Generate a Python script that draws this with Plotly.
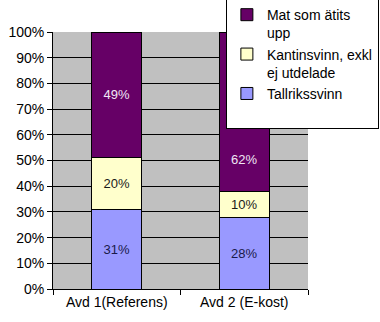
import plotly.graph_objects as go

categories = ["Avd 1(Referens)", "Avd 2 (E-kost)"]
tallriks = [31, 28]
kantin = [20, 10]
mat = [49, 62]
tick_vals = [0, 10, 20, 30, 40, 50, 60, 70, 80, 90, 100]
tick_text = [f"{v}%" for v in tick_vals]

font = "Liberation Sans, Arial, sans-serif"

def bar(name, vals, color, tcolor, texts=None):
    return go.Bar(
        x=categories, y=vals, name=name,
        marker=dict(color=color, line=dict(color="black", width=1)),
        text=texts if texts is not None else [f"{v}%" for v in vals],
        textposition="inside",
        insidetextanchor="middle", textangle=0,
        textfont=dict(family=font, size=13, color=tcolor),
        hoverinfo="skip",
    )

# Label of the top segment of Avd 2 sits in the part not hidden by the legend
mat_texts = [f"{mat[0]}%", ""]

fig = go.Figure([
    bar("Tallrikssvinn<br> ", tallriks, "#9999FF", "#1a1a4a"),
    bar("Kantinsvinn, exkl<br>ej utdelade", kantin, "#FFFFCC", "#1a1a1a"),
    bar("Mat som ätits<br>upp", mat, "#660066", "#F0E6F5", mat_texts),
])

base2 = tallriks[1] + kantin[1]
fig.add_annotation(
    x=categories[1], y=base2 + mat[1] * 0.2, text=f"{mat[1]}%",
    showarrow=False, font=dict(family=font, size=13, color="#F0E6F5"),
)

fig.update_layout(
    width=380, height=322,
    barmode="stack", bargap=0.61,
    margin=dict(l=53, r=72, t=32, b=33, autoexpand=False),
    paper_bgcolor="white", plot_bgcolor="#C0C0C0",
    font=dict(family=font, size=14, color="black"),
    legend=dict(
        x=0.678, y=1.132, xanchor="left", yanchor="top",
        bgcolor="white", bordercolor="black", borderwidth=1,
        traceorder="reversed", font=dict(size=14, family=font),
        itemwidth=30, tracegroupgap=0, valign="top",
    ),
    xaxis=dict(
        showline=True, linecolor="black", linewidth=1,
        ticks="outside", tickson="boundaries", ticklen=5, tickcolor="black",
        showgrid=False, tickfont=dict(size=14), tickangle=0, automargin=False,
    ),
    yaxis=dict(
        range=[0, 100], tickvals=tick_vals, ticktext=tick_text,
        showline=True, linecolor="black", linewidth=1,
        ticks="outside", ticklen=5, tickcolor="black",
        showgrid=True, gridcolor="black", gridwidth=1,
        zeroline=False, tickfont=dict(size=14), automargin=False,
    ),
)

fig.write_html("out.html")
